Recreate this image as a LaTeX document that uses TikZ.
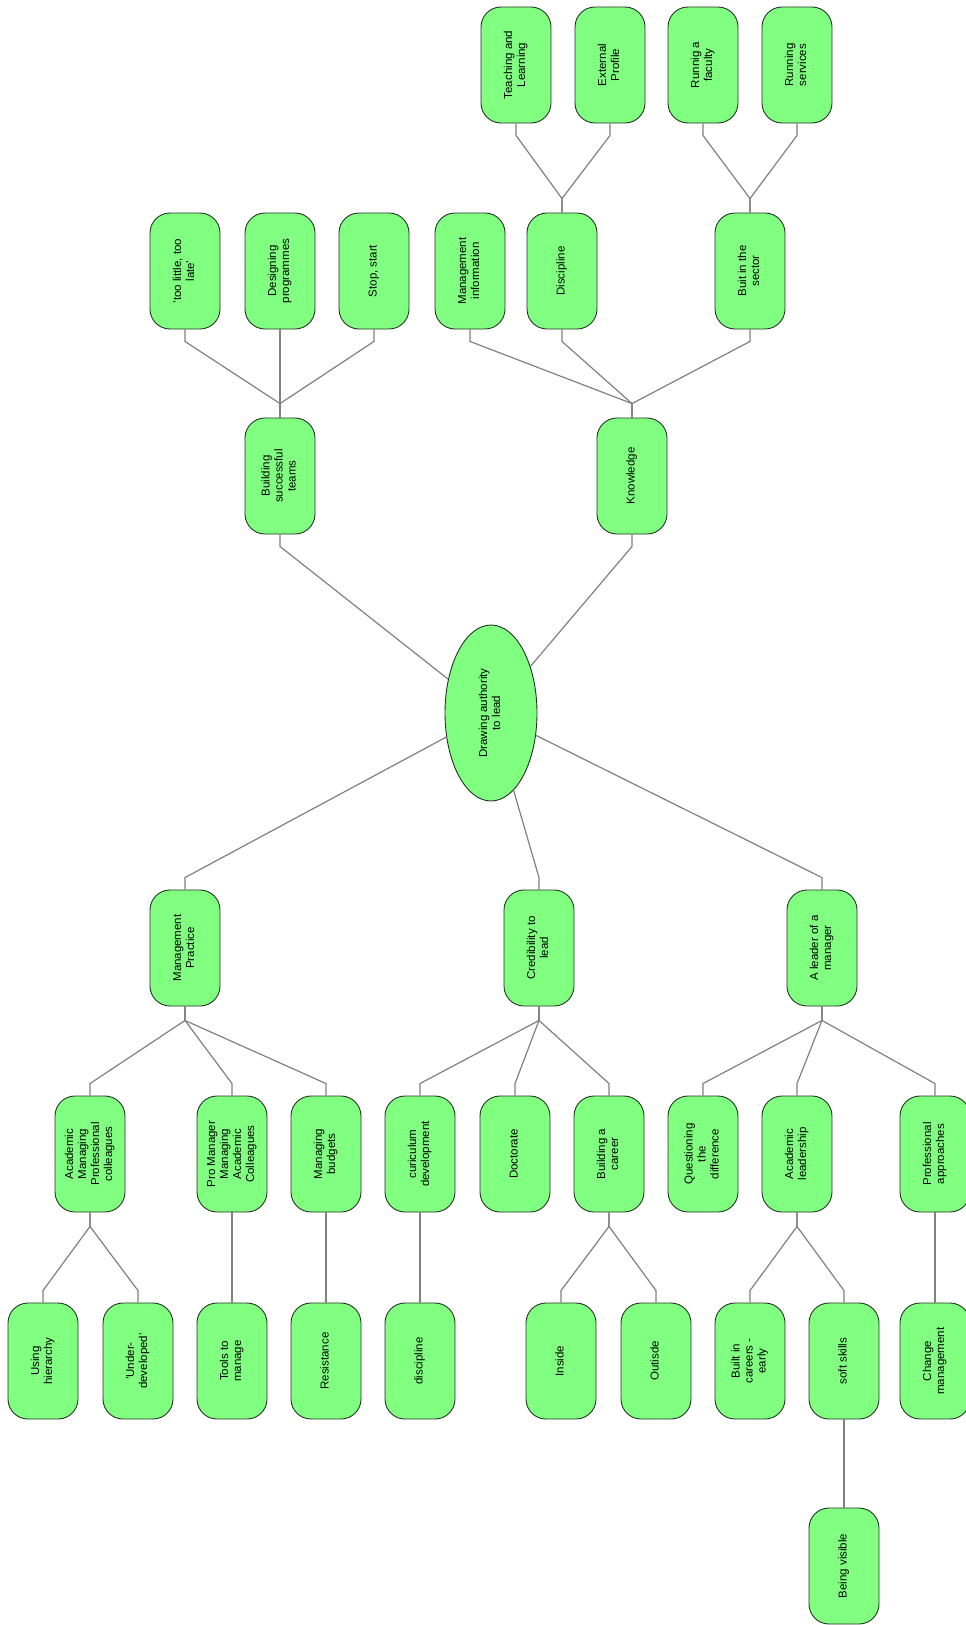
\documentclass[tikz,border=0pt]{standalone}
\usepackage{fontspec}
\setmainfont{Liberation Sans}
\usetikzlibrary{shapes.geometric}
\definecolor{boxgreen}{RGB}{128,255,128}
\definecolor{boxline}{RGB}{35,50,35}
\definecolor{linkgray}{RGB}{128,128,128}
\newcommand{\sidetext}[1]{\rotatebox{90}{\begin{tabular}{@{}c@{}}#1\end{tabular}}}

\begin{document}
\begin{tikzpicture}[x=1pt,y=-1pt,
    box/.style={draw=boxline,fill=boxgreen,line width=0.9pt,rounded corners=20pt,
      minimum width=70pt,minimum height=116pt,inner sep=0pt,
      font=\fontsize{11.5}{13}\selectfont},
    hub/.style={box,ellipse,rounded corners=0pt,minimum width=92pt,minimum height=176pt},
    link/.style={draw=linkgray,line width=1.2pt}]
  \useasboundingbox (0,0) rectangle (966,1625);
  % centre
  \node[hub] (root) at (491,713) {\sidetext{Drawing authority\\to lead}};
  % upper branches
  \node[box] (teams) at (280,476) {\sidetext{Building\\successful\\teams}};
  \node[box] (know) at (632,476) {\sidetext{Knowledge}};
  \node[box] (little) at (185,271) {\sidetext{'too little, too\\late'}};
  \node[box] (design) at (280,271) {\sidetext{Designing\\programmes}};
  \node[box] (stop) at (374,271) {\sidetext{Stop, start}};
  \node[box] (mis) at (470,271) {\sidetext{Management\\information}};
  \node[box] (disc) at (562,271) {\sidetext{Discipline}};
  \node[box] (sector) at (750,271) {\sidetext{Buit in the\\sector}};
  \node[box] (teach) at (516,65) {\sidetext{Teaching and\\Learning}};
  \node[box] (profile) at (610,65) {\sidetext{External\\Profile}};
  \node[box] (faculty) at (703,65) {\sidetext{Runnig a\\faculty}};
  \node[box] (services) at (797,65) {\sidetext{Running\\services}};
  % lower branches
  \node[box] (mgmt) at (185,948) {\sidetext{Management\\Practice}};
  \node[box] (cred) at (539,948) {\sidetext{Credibility to\\lead}};
  \node[box] (leader) at (822,948) {\sidetext{A leader of a\\manager}};
  \node[box] (amp) at (90,1154) {\sidetext{Academic\\Managing\\Professional\\colleagues}};
  \node[box] (pmac) at (232,1154) {\sidetext{Pro Manager\\Managing\\Academic\\Colleagues}};
  \node[box] (budget) at (326,1154) {\sidetext{Managing\\budgets}};
  \node[box] (curric) at (420,1154) {\sidetext{curiculum\\development}};
  \node[box] (doct) at (515,1154) {\sidetext{Doctorate}};
  \node[box] (career) at (609,1154) {\sidetext{Building a\\career}};
  \node[box] (quest) at (703,1154) {\sidetext{Questioning\\the\\difference}};
  \node[box] (acad) at (797,1154) {\sidetext{Academic\\leadership}};
  \node[box] (profapp) at (935,1154) {\sidetext{Professional\\approaches}};
  \node[box] (hier) at (43,1361) {\sidetext{Using\\hierarchy}};
  \node[box] (under) at (138,1361) {\sidetext{'Under-\\developed'}};
  \node[box] (tools) at (232,1361) {\sidetext{Tools to\\manage}};
  \node[box] (resist) at (326,1361) {\sidetext{Resistance}};
  \node[box] (subdisc) at (420,1361) {\sidetext{discipline}};
  \node[box] (inside) at (561,1361) {\sidetext{Inside}};
  \node[box] (outside) at (656,1361) {\sidetext{Outisde}};
  \node[box] (early) at (750,1361) {\sidetext{Built in\\careers -\\early}};
  \node[box] (soft) at (844,1361) {\sidetext{soft skills}};
  \node[box] (change) at (935,1361) {\sidetext{Change\\management}};
  \node[box] (visible) at (844,1566) {\sidetext{Being visible}};
  % links to the centre
  \draw[link] (teams.south) -- ([yshift=-12pt]teams.south) -- (root);
  \draw[link] (know.south) -- ([yshift=-12pt]know.south) -- (root);
  \draw[link] (mgmt.north) -- ([yshift=12pt]mgmt.north) -- (root);
  \draw[link] (cred.north) -- ([yshift=12pt]cred.north) -- (root);
  \draw[link] (leader.north) -- ([yshift=12pt]leader.north) -- (root);
  % upward links
  \draw[link] (teams.north) -- ++(0,14pt) -- ([yshift=-12pt]little.south) -- (little.south);
  \draw[link] (teams.north) -- ++(0,14pt) -- ([yshift=-12pt]design.south) -- (design.south);
  \draw[link] (teams.north) -- ++(0,14pt) -- ([yshift=-12pt]stop.south) -- (stop.south);
  \draw[link] (know.north) -- ++(0,14pt) -- ([yshift=-12pt]mis.south) -- (mis.south);
  \draw[link] (know.north) -- ++(0,14pt) -- ([yshift=-12pt]disc.south) -- (disc.south);
  \draw[link] (know.north) -- ++(0,14pt) -- ([yshift=-12pt]sector.south) -- (sector.south);
  \draw[link] (disc.north) -- ++(0,14pt) -- ([yshift=-12pt]teach.south) -- (teach.south);
  \draw[link] (disc.north) -- ++(0,14pt) -- ([yshift=-12pt]profile.south) -- (profile.south);
  \draw[link] (sector.north) -- ++(0,14pt) -- ([yshift=-12pt]faculty.south) -- (faculty.south);
  \draw[link] (sector.north) -- ++(0,14pt) -- ([yshift=-12pt]services.south) -- (services.south);
  % downward links
  \draw[link] (mgmt.south) -- ++(0,-14pt) -- ([yshift=12pt]amp.north) -- (amp.north);
  \draw[link] (mgmt.south) -- ++(0,-14pt) -- ([yshift=12pt]pmac.north) -- (pmac.north);
  \draw[link] (mgmt.south) -- ++(0,-14pt) -- ([yshift=12pt]budget.north) -- (budget.north);
  \draw[link] (cred.south) -- ++(0,-14pt) -- ([yshift=12pt]curric.north) -- (curric.north);
  \draw[link] (cred.south) -- ++(0,-14pt) -- ([yshift=12pt]doct.north) -- (doct.north);
  \draw[link] (cred.south) -- ++(0,-14pt) -- ([yshift=12pt]career.north) -- (career.north);
  \draw[link] (leader.south) -- ++(0,-14pt) -- ([yshift=12pt]quest.north) -- (quest.north);
  \draw[link] (leader.south) -- ++(0,-14pt) -- ([yshift=12pt]acad.north) -- (acad.north);
  \draw[link] (leader.south) -- ++(0,-14pt) -- ([yshift=12pt]profapp.north) -- (profapp.north);
  \draw[link] (amp.south) -- ++(0,-14pt) -- ([yshift=12pt]hier.north) -- (hier.north);
  \draw[link] (amp.south) -- ++(0,-14pt) -- ([yshift=12pt]under.north) -- (under.north);
  \draw[link] (pmac) -- (tools);
  \draw[link] (budget) -- (resist);
  \draw[link] (curric) -- (subdisc);
  \draw[link] (career.south) -- ++(0,-14pt) -- ([yshift=12pt]inside.north) -- (inside.north);
  \draw[link] (career.south) -- ++(0,-14pt) -- ([yshift=12pt]outside.north) -- (outside.north);
  \draw[link] (acad.south) -- ++(0,-14pt) -- ([yshift=12pt]early.north) -- (early.north);
  \draw[link] (acad.south) -- ++(0,-14pt) -- ([yshift=12pt]soft.north) -- (soft.north);
  \draw[link] (profapp) -- (change);
  \draw[link] (soft) -- (visible);
\end{tikzpicture}
\end{document}
